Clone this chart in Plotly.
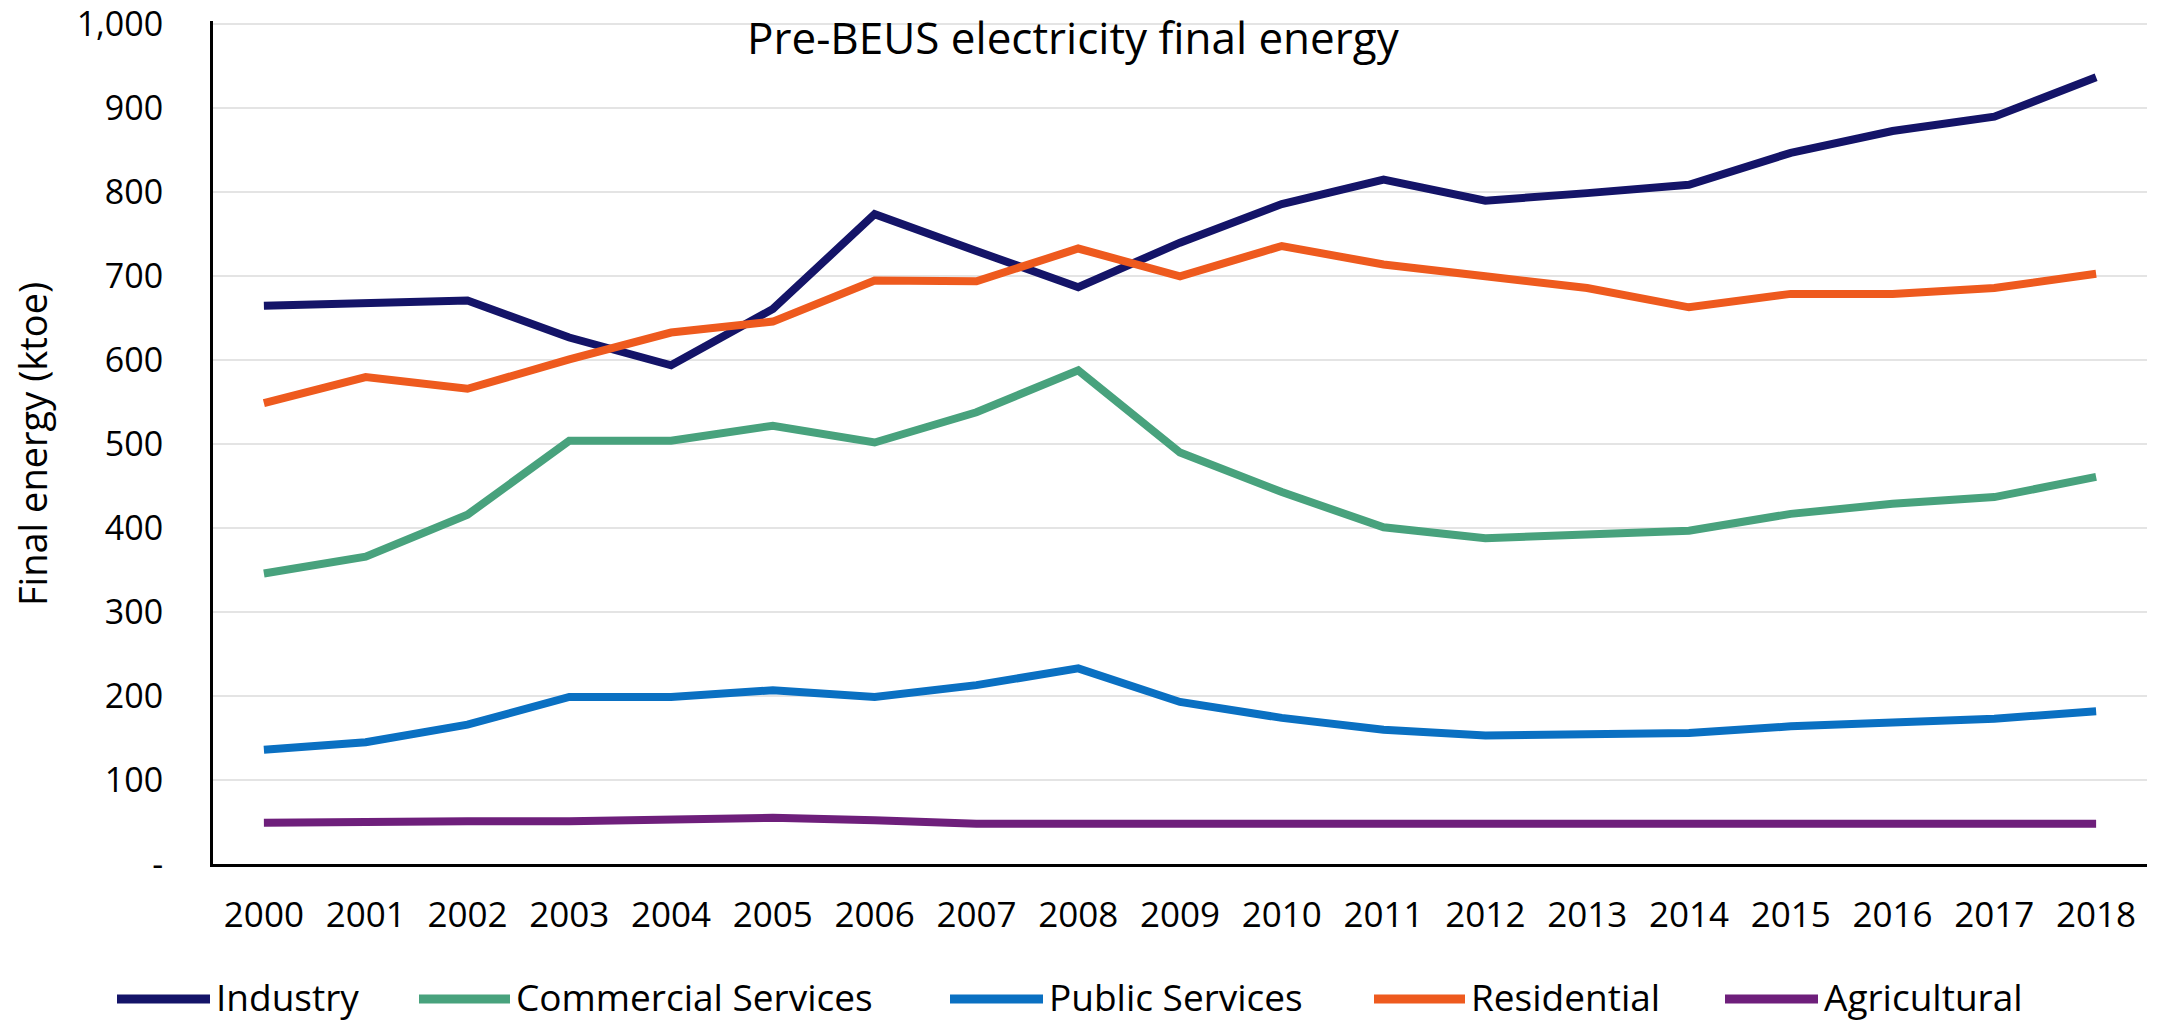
import plotly.graph_objects as go

years = list(range(2000, 2019))
industry = [665, 667, 671, 627, 594, 661, 774, 730, 687, 740, 786, 815, 790, 799, 809, 847, 873, 890, 937]
commercial = [346, 366, 416, 504, 504, 522, 502, 538, 588, 490, 443, 401, 388, 393, 397, 417, 429, 437, 461]
public = [136, 145, 166, 199, 199, 207, 199, 213, 233, 193, 174, 160, 153, 155, 156, 164, 169, 173, 182]
residential = [549, 580, 566, 601, 633, 646, 695, 694, 733, 700, 736, 714, 700, 686, 663, 679, 679, 686, 703]
agricultural = [49, 51, 51, 51, 52, 55, 52, 48, 48, 48, 48, 48, 48, 48, 48, 48, 48, 48, 48]

series_names = ["Industry", "Commercial Services", "Public Services", "Residential", "Agricultural"]
series_values = [industry, commercial, public, residential, agricultural]
colors = ["#141468", "#48A27D", "#0A70C2", "#EE5A1E", "#6E1F7B"]

ytick_vals = [0, 100, 200, 300, 400, 500, 600, 700, 800, 900, 1000]
ytick_text = ["-", "100", "200", "300", "400", "500", "600", "700", "800", "900", "1,000"]

title_text = "Pre-BEUS electricity final energy"
ytitle_text = "Final energy (ktoe)"

FONT = "Open Sans"
W, H = 2159, 1022
ML, MR, MT, MB = 213, 12, 21, 158
PW, PH = W - ML - MR, H - MT - MB


def px_x(X):
    return (X - ML) / PW


def px_y(Y):
    return (H - MB - Y) / PH


fig = go.Figure()
for name, vals, col in zip(series_names, series_values, colors):
    fig.add_trace(go.Scatter(x=years, y=vals, name=name, mode="lines",
                             line=dict(color=col, width=8), showlegend=False))

# custom legend (line swatch + label) to match the reference layout
legend_line_x = [(117, 210), (419, 510), (950, 1043), (1374, 1465), (1725, 1818)]
legend_y = 996
shapes = []
annotations = []
for (x0, x1), name, col in zip(legend_line_x, series_names, colors):
    shapes.append(dict(type="line", xref="paper", yref="paper",
                       x0=px_x(x0), x1=px_x(x1), y0=px_y(legend_y + 3), y1=px_y(legend_y + 3),
                       line=dict(color=col, width=9)))
    annotations.append(dict(text=name, xref="paper", yref="paper",
                            x=px_x(x1 + 4), y=px_y(legend_y), xanchor="left", yanchor="middle",
                            showarrow=False, font=dict(family=FONT, size=37, color="black")))

annotations.append(dict(text=title_text, xref="paper", yref="paper",
                        x=px_x(1073), y=px_y(37), xanchor="center", yanchor="middle",
                        showarrow=False, font=dict(family=FONT, size=44, color="black")))
annotations.append(dict(text=ytitle_text, xref="paper", yref="paper", textangle=-90,
                        x=px_x(32), y=px_y(444), xanchor="center", yanchor="middle",
                        showarrow=False, font=dict(family=FONT, size=38, color="black")))

fig.update_layout(
    width=W, height=H,
    margin=dict(l=ML, r=MR, t=MT, b=MB, autoexpand=False),
    paper_bgcolor="white", plot_bgcolor="white",
    font=dict(family=FONT, color="black"),
    shapes=shapes, annotations=annotations,
    showlegend=False,
)
fig.update_xaxes(range=[1999.5, 2018.5], tickvals=years, ticktext=[str(y) for y in years],
                 showgrid=False, showline=True, linecolor="black", linewidth=3,
                 ticks="", tickfont=dict(family=FONT, size=35, color="black"),
                 ticklabelstandoff=18, zeroline=False, automargin=False)
fig.update_yaxes(range=[0, 1004], tickvals=ytick_vals, ticktext=ytick_text,
                 showgrid=True, gridcolor="#E4E4E4", gridwidth=2,
                 showline=True, linecolor="black", linewidth=3,
                 ticks="", tickfont=dict(family=FONT, size=34, color="black"),
                 ticklabelstandoff=40, ticklabeloverflow="allow", zeroline=False,
                 automargin=False)

fig.write_html("out.html", config={"displayModeBar": False},
               post_script="document.body.style.margin='0';document.body.style.overflow='hidden';")
